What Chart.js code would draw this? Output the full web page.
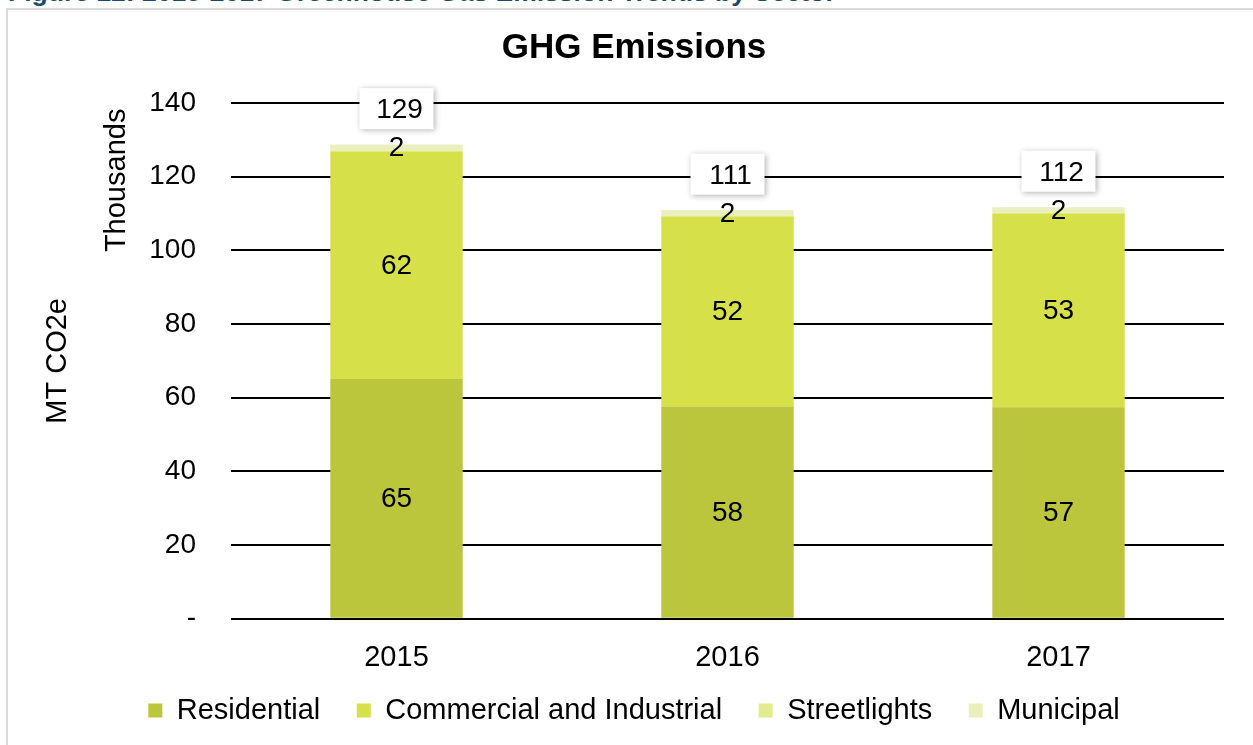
<!DOCTYPE html>
<html>
<head>
<meta charset="utf-8">
<script src="https://cdn.jsdelivr.net/npm/chart.js@4"></script>
<style>
    html, body { margin: 0; padding: 0; background: #ffffff; overflow: hidden; }
    #caption {
        position: absolute; left: 8px; top: -23px;
        font: bold 26.5px "Liberation Sans", Arial, sans-serif;
        color: #1b4a6b; white-space: nowrap;
    }
    #frame {
        position: absolute; left: 6px; top: 8px; width: 1260px; height: 760px;
        border: 2px solid #d9d9d9; box-sizing: border-box;
    }
    #wrap { position: absolute; left: 0; top: 0; width: 1253px; height: 745px; }
</style>
</head>
<body>
<div id="caption">Figure 12: 2015-2017 Greenhouse Gas Emission Trends by Sector</div>
<div id="frame"></div>
<div id="wrap"><canvas id="myChart"></canvas></div>
<script>
"use strict";

// values in thousands of MT CO2e
const years = ["2015", "2016", "2017"];
const residential = [65.1, 57.6, 57.4];
const commercial = [61.7, 51.6, 52.6];
const streetlights = [0.3, 0.2, 0.2];
const municipal = [1.6, 1.5, 1.5];
const yTicks = [0, 20, 40, 60, 80, 100, 120, 140];

const FONT = "'Liberation Sans', Arial, sans-serif";

// legend padding is used both ways; pull it up closer to the axis labels
const legendShift = {
    id: "legendShift",
    afterLayout(chart) {
        chart.legend.top -= 30;
        chart.legend.bottom -= 30;
    },
};

// segment values + totals in boxes
const labelPlugin = {
    id: "barLabels",
    afterDatasetsDraw(chart) {
        const ctx = chart.ctx;
        ctx.save();
        ctx.font = "28px " + FONT;
        ctx.fillStyle = "#000";
        ctx.textAlign = "center";
        ctx.textBaseline = "middle";
        chart.data.datasets.forEach((ds, di) => {
            const meta = chart.getDatasetMeta(di);
            meta.data.forEach((bar, i) => {
                const v = ds.data[i];
                if (v < 1) return;
                const mid = (bar.y + bar.base) / 2;
                ctx.fillText(Math.round(v), bar.x, mid + 1);
            });
        });
        const last = chart.getDatasetMeta(chart.data.datasets.length - 1);
        last.data.forEach((bar, i) => {
            let total = 0;
            chart.data.datasets.forEach((ds) => { total += ds.data[i]; });
            const cy = bar.y - 36;
            const w = 74, h = 41;
            ctx.save();
            ctx.shadowColor = "rgba(0,0,0,0.3)";
            ctx.shadowBlur = 6;
            ctx.shadowOffsetX = 1;
            ctx.shadowOffsetY = 1;
            ctx.fillStyle = "#ffffff";
            ctx.fillRect(bar.x - w / 2, cy - h / 2, w, h);
            ctx.restore();
            ctx.fillText(Math.round(total), bar.x + 3, cy + 2);
        });
        // display units label
        const y = chart.scales.y;
        ctx.font = "29px " + FONT;
        ctx.translate(117, y.getPixelForValue(119));
        ctx.rotate(-Math.PI / 2);
        ctx.fillText("Thousands", 0, 0);
        ctx.restore();
    },
};

const ctx = document.getElementById("myChart").getContext("2d");

new Chart(ctx, {
    type: "bar",
    data: {
        labels: years,
        datasets: [
            { label: "Residential", data: residential, backgroundColor: "#bcc63c" },
            { label: "Commercial and Industrial", data: commercial, backgroundColor: "#d6e048" },
            { label: "Streetlights", data: streetlights, backgroundColor: "#e2eb8e" },
            { label: "Municipal", data: municipal, backgroundColor: "#e9efbd" },
        ],
    },
    plugins: [labelPlugin, legendShift],
    options: {
        responsive: true,
        maintainAspectRatio: false,
        animation: false,
        layout: { padding: { left: 44, right: 29, top: 0, bottom: -20 } },
        datasets: { bar: { categoryPercentage: 1, barPercentage: 0.4 } },
        scales: {
            x: {
                stacked: true,
                grid: { display: false },
                border: { display: false },
                ticks: { color: "#000", font: { family: FONT, size: 29 }, padding: 14 },
            },
            y: {
                stacked: true,
                min: 0,
                max: 140,
                afterBuildTicks: (axis) => { axis.ticks = yTicks.map((v) => ({ value: v })); },
                afterFit: (axis) => { axis.width = 187; },
                grid: { color: "#000", lineWidth: 2, drawTicks: false },
                border: { display: false },
                ticks: {
                    color: "#000",
                    padding: 35,
                    font: { family: FONT, size: 28 },
                    callback: (v) => (v === 0 ? "-" : v),
                },
                title: {
                    display: true,
                    text: "MT CO2e",
                    color: "#000",
                    font: { family: FONT, size: 29 },
                    padding: { top: -3, bottom: 0 },
                },
            },
        },
        plugins: {
            title: {
                display: true,
                text: "GHG Emissions",
                color: "#000",
                font: { family: FONT, size: 35, weight: "bold" },
                padding: { top: 27, bottom: 34 },
            },
            legend: {
                position: "bottom",
                labels: {
                    color: "#000",
                    font: { family: FONT, size: 29 },
                    boxWidth: 14,
                    boxHeight: 14,
                    padding: 36.5,
                },
            },
            tooltip: { enabled: false },
        },
    },
});
</script>
</body>
</html>
